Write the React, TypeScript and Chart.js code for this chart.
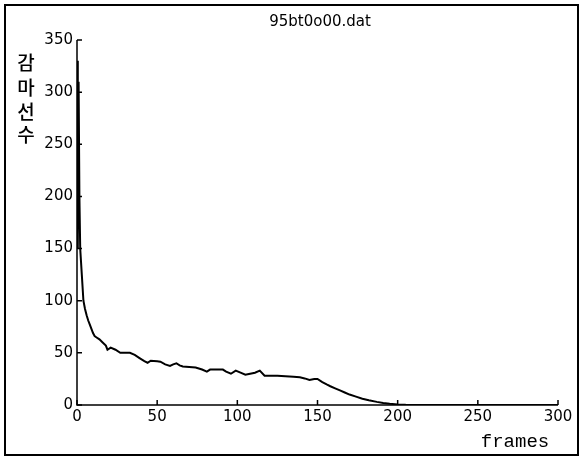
import React, { useEffect, useRef } from "react";
import { Chart, registerables } from "chart.js";

Chart.register(...registerables);

const titleText = "95bt0o00.dat";
const yLabelChars = ["감", "마", "선", "수"];
const xLabelText = "frames";

const frames = [
  0, 0.5, 1, 1.5, 2, 3, 4, 5, 6, 7, 8, 9, 10, 11, 12, 14, 16, 18, 19, 21, 24, 27, 30, 33, 36, 39, 42, 44, 46, 50,
  52, 55, 58, 60, 62, 64, 66, 70, 74, 78, 81, 83, 87, 91, 93, 96, 99, 102, 105, 108, 111, 114, 117, 120, 125, 130,
  135, 139, 142, 145, 148, 150, 153, 156, 158, 161, 164, 167, 170, 174, 178, 182, 187, 191, 195, 200, 205, 210, 220,
  240, 260, 300,
];
const counts = [
  330, 150, 310, 200, 150, 125, 100, 92, 86, 81, 77, 73, 69, 66, 65, 63, 60, 57, 53, 55, 53, 50, 50, 50, 48, 45, 42,
  40.5, 42.5, 42, 41.5, 39, 37.5, 39, 40, 38, 37, 36.5, 36, 34, 32, 34, 34, 34, 32, 30, 33, 31, 29, 30, 31, 33, 28,
  28, 28, 27.5, 27, 26.5, 25.5, 24, 25, 25, 22, 19.5, 18, 16, 14, 12, 10, 8, 6, 4.5, 3, 2, 1.2, 0.6, 0.2, 0.1, 0, 0,
  0, 0,
];
const xTicks = [0, 50, 100, 150, 200, 250, 300];
const yTicks = [0, 50, 100, 150, 200, 250, 300, 350];

const FONT = '"DejaVu Sans", Arial, sans-serif';

const decorPlugin = {
  id: "decor",
  afterDraw(chart: any) {
    const ctx = chart.ctx;
    const xs = chart.scales.x;
    const ys = chart.scales.y;
    const area = chart.chartArea;
    ctx.save();
    ctx.strokeStyle = "#000";
    // outer frame
    ctx.lineWidth = 2;
    ctx.strokeRect(5, 5, 573, 450);
    // axes
    ctx.lineWidth = 1.5;
    ctx.beginPath();
    ctx.moveTo(area.left, area.top);
    ctx.lineTo(area.left, area.bottom);
    ctx.lineTo(area.right, area.bottom);
    ctx.stroke();
    // inward ticks
    ctx.beginPath();
    for (const v of xTicks) {
      const px = xs.getPixelForValue(v);
      ctx.moveTo(px, area.bottom);
      ctx.lineTo(px, area.bottom - 5);
    }
    for (const v of yTicks) {
      const py = ys.getPixelForValue(v);
      ctx.moveTo(area.left, py);
      ctx.lineTo(area.left + 5, py);
    }
    ctx.stroke();
    // title
    ctx.fillStyle = "#000";
    ctx.font = `15px ${FONT}`;
    ctx.textAlign = "center";
    ctx.textBaseline = "middle";
    ctx.fillText(titleText, 320, 22);
    // y label (stacked Korean)
    ctx.font = '500 19px "Noto Sans CJK KR", sans-serif';
    const ysPos = [63, 88, 112, 135];
    yLabelChars.forEach((c, i) => ctx.fillText(c, 26, ysPos[i]));
    // x label
    ctx.font = '19px "Liberation Mono", "Courier New", monospace';
    ctx.fillText(xLabelText, 515, 442);
    ctx.restore();
  },
};

export default function App() {
  const ref = useRef<HTMLCanvasElement>(null);
  useEffect(() => {
    if (!ref.current) return;
    const chart = new Chart(ref.current, {
      type: "line",
      data: {
        datasets: [
          {
            data: frames.map((f, i) => ({ x: f, y: counts[i] })),
            borderColor: "#000",
            borderWidth: 2,
            pointRadius: 0,
            tension: 0,
            fill: false,
          },
        ],
      },
      options: {
        responsive: false,
        animation: false,
        devicePixelRatio: 1,
        layout: { padding: { left: 0, right: 24, top: 40, bottom: 24 } },
        plugins: { legend: { display: false }, tooltip: { enabled: false }, title: { display: false } },
        scales: {
          x: {
            type: "linear",
            min: 0,
            max: 300,
            grid: { display: false, drawTicks: false },
            border: { display: false },
            ticks: {
              stepSize: 50,
              color: "#000",
              font: { family: FONT, size: 15 },
              padding: 3,
              maxRotation: 0,
            },
            afterFit(scale: any) {
              scale.height = 30;
            },
          },
          y: {
            type: "linear",
            min: 0,
            max: 350,
            grid: { display: false, drawTicks: false },
            border: { display: false },
            ticks: {
              stepSize: 50,
              color: "#000",
              font: { family: FONT, size: 15 },
              padding: 4,
            },
            afterFit(scale: any) {
              scale.width = 77;
            },
          },
        },
      },
      plugins: [decorPlugin],
    });
    return () => chart.destroy();
  }, []);
  return (
    <div style={{ position: "absolute", left: 0, top: 0, width: 582, height: 459, background: "#fff" }}>
      <canvas ref={ref} width={582} height={459} style={{ display: "block" }} />
    </div>
  );
}
